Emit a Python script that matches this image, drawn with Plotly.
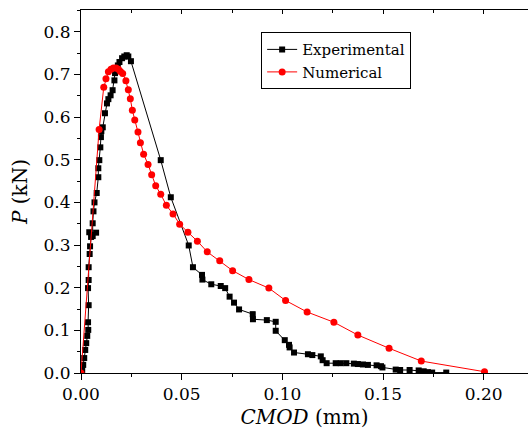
import plotly.graph_objects as go

# Experimental (CMOD mm, P kN)
exp_cmod = [0.0001, 0.0006, 0.0011, 0.0016, 0.0021, 0.0026, 0.0031, 0.0036, 0.0035, 0.0038,
            0.0035, 0.0038, 0.0038, 0.0043, 0.0045, 0.0050, 0.0041, 0.0075, 0.0058, 0.0058,
            0.0062, 0.0067, 0.0078, 0.0086, 0.0086, 0.0091, 0.0096, 0.0099, 0.0101, 0.0108,
            0.0119, 0.0129, 0.0136, 0.0147, 0.0157, 0.0166, 0.0169, 0.0183, 0.0191, 0.0204,
            0.0215, 0.0227, 0.0235, 0.0248, 0.0396, 0.0446, 0.0535, 0.0556, 0.0601, 0.0603,
            0.0647, 0.0694, 0.0716, 0.0738, 0.0760, 0.0785, 0.0853, 0.0854, 0.0923, 0.0967,
            0.0967, 0.1012, 0.1033, 0.1036, 0.1058, 0.1127, 0.1149, 0.1191, 0.1200, 0.1220,
            0.1265, 0.1290, 0.1318, 0.1355, 0.1375, 0.1400, 0.1425, 0.1468, 0.1490, 0.1497,
            0.1563, 0.1585, 0.1632, 0.1677, 0.1702, 0.1723, 0.1744, 0.1814]
exp_p = [0.000, 0.007, 0.019, 0.035, 0.054, 0.070, 0.087, 0.101, 0.119, 0.159,
         0.199, 0.218, 0.248, 0.279, 0.297, 0.319, 0.330, 0.329, 0.321, 0.351,
         0.379, 0.400, 0.422, 0.459, 0.480, 0.499, 0.529, 0.553, 0.567, 0.576,
         0.609, 0.632, 0.642, 0.651, 0.663, 0.686, 0.703, 0.721, 0.729, 0.738,
         0.742, 0.745, 0.742, 0.731, 0.499, 0.412, 0.299, 0.248, 0.230, 0.219,
         0.208, 0.204, 0.199, 0.179, 0.165, 0.149, 0.138, 0.126, 0.124, 0.120,
         0.099, 0.077, 0.066, 0.060, 0.048, 0.044, 0.042, 0.039, 0.030, 0.023,
         0.023, 0.023, 0.023, 0.022, 0.021, 0.020, 0.019, 0.018, 0.016, 0.013,
         0.008, 0.007, 0.007, 0.006, 0.004, 0.002, 0.001, 0.001]

# Numerical
num_cmod = [0.0, 0.0090, 0.0113, 0.0124, 0.0136, 0.0149, 0.0161, 0.0174, 0.0186, 0.0196,
            0.0207, 0.0223, 0.0235, 0.0245, 0.0255, 0.0267, 0.0283, 0.0295, 0.0311, 0.0333,
            0.0351, 0.0371, 0.0396, 0.0424, 0.0457, 0.0490, 0.0531, 0.0578, 0.0627, 0.0689,
            0.0753, 0.0834, 0.0933, 0.1016, 0.1123, 0.1256, 0.1375, 0.1530, 0.1690, 0.2004]
num_p = [0.000, 0.571, 0.670, 0.690, 0.706, 0.712, 0.715, 0.715, 0.712, 0.707,
         0.702, 0.685, 0.664, 0.643, 0.616, 0.593, 0.565, 0.540, 0.513, 0.489,
         0.465, 0.439, 0.419, 0.393, 0.373, 0.349, 0.330, 0.309, 0.284, 0.263,
         0.240, 0.219, 0.199, 0.170, 0.143, 0.119, 0.089, 0.058, 0.028, 0.003]

FONT = "DejaVu Serif"

fig = go.Figure()
fig.add_trace(go.Scatter(x=exp_cmod, y=exp_p, mode="lines+markers", name="Experimental",
                         line=dict(color="black", width=1),
                         marker=dict(symbol="square", size=6, color="black")))
fig.add_trace(go.Scatter(x=num_cmod, y=num_p, mode="lines+markers", name="Numerical",
                         line=dict(color="red", width=1),
                         marker=dict(symbol="circle", size=7, color="red")))
# invisible trace on top axis for inward top ticks
fig.add_trace(go.Scatter(x=[0], y=[0], xaxis="x2", mode="markers",
                         marker=dict(opacity=0), showlegend=False, hoverinfo="skip"))

fig.update_layout(
    width=528, height=436,
    margin=dict(l=81, r=0, t=10, b=63),
    paper_bgcolor="white", plot_bgcolor="white",
    font=dict(family=FONT, size=17, color="black"),
    showlegend=True,
    legend=dict(x=0.403, y=0.939, xanchor="left", yanchor="top",
                bordercolor="black", borderwidth=1, bgcolor="white",
                font=dict(family=FONT, size=15), tracegroupgap=0,
                itemwidth=30, entrywidth=172, entrywidthmode="pixels"),
    xaxis=dict(range=[0, 0.222], dtick=0.05, tick0=0, tickformat=".2f",
               showgrid=False, zeroline=False, showline=True, linecolor="black", linewidth=1,
               ticks="outside", ticklen=6, tickcolor="black",
               tickfont=dict(family=FONT, size=17),
               minor=dict(dtick=0.025, ticks="outside", ticklen=3, tickcolor="black"),
               title=dict(text="<i>CMOD</i> (mm)", standoff=6, font=dict(family=FONT, size=20))),
    xaxis2=dict(range=[0, 0.222], overlaying="x", side="top", dtick=0.05, tick0=0,
                showticklabels=False, showgrid=False, zeroline=False,
                showline=True, linecolor="black", linewidth=1,
                ticks="inside", ticklen=4, tickcolor="black",
                minor=dict(dtick=0.025, ticks="inside", ticklen=3, tickcolor="black")),
    yaxis=dict(range=[0, 0.851], dtick=0.1, tick0=0, tickformat=".1f",
               showgrid=False, zeroline=False, showline=True, linecolor="black", linewidth=1,
               ticks="outside", ticklen=6, tickcolor="black",
               tickfont=dict(family=FONT, size=17),
               minor=dict(dtick=0.05, ticks="outside", ticklen=3, tickcolor="black"),
               title=dict(text="<i>P</i> (kN)", standoff=10, font=dict(family=FONT, size=20))),
)

fig.write_html("out.html")
